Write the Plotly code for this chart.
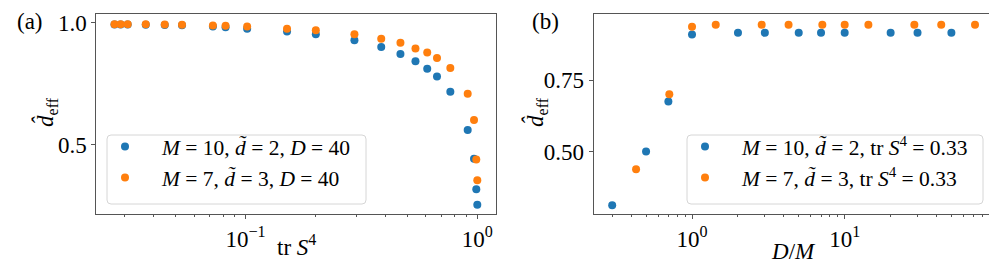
import plotly.graph_objects as go

# ---- data, panel (a) ----
trS4 = [0.0272, 0.0289, 0.031, 0.0371, 0.0448, 0.0532, 0.0723, 0.082, 0.1016, 0.151, 0.201,
        0.295, 0.385, 0.466, 0.541, 0.608, 0.670, 0.765, 0.909, 0.968, 0.99, 1.0]
deff_a_M10 = [0.992, 0.992, 0.992, 0.991, 0.990, 0.989, 0.984, 0.981, 0.975, 0.963, 0.952,
              0.927, 0.900, 0.871, 0.841, 0.811, 0.779, 0.716, 0.559, 0.442, 0.316, 0.253]
deff_a_M7 = [0.993, 0.993, 0.993, 0.993, 0.992, 0.991, 0.988, 0.987, 0.984, 0.975, 0.968,
             0.952, 0.934, 0.917, 0.894, 0.877, 0.855, 0.814, 0.708, 0.600, 0.438, 0.353]

# ---- data, panel (b) ----
DM_M10 = [0.3, 0.5, 0.7, 1.0, 2.0, 3.0, 5.0, 7.0, 10.0, 20.0, 30.0, 50.0]
deff_b_M10 = [0.312, 0.500, 0.676, 0.911, 0.917, 0.917, 0.917, 0.917, 0.917, 0.917, 0.917, 0.917]
DM_M7 = [0.43, 0.71, 1.0, 1.43, 2.86, 4.29, 7.14, 10.0, 14.3, 28.6, 42.9, 71.4]
deff_b_M7 = [0.438, 0.701, 0.938, 0.945, 0.945, 0.945, 0.945, 0.945, 0.945, 0.945, 0.945, 0.945]

leg_a = ["<i>M</i> = 10, <i>d̃</i> = 2, <i>D</i> = 40", "<i>M</i> = 7, <i>d̃</i> = 3, <i>D</i> = 40"]
leg_b = ["<i>M</i> = 10, <i>d̃</i> = 2, tr <i>S</i><sup>4</sup> = 0.33",
         "<i>M</i> = 7, <i>d̃</i> = 3, tr <i>S</i><sup>4</sup> = 0.33"]

BLUE = "#1f77b4"
ORANGE = "#ff7f0e"
FONT = "Liberation Serif"
W, H = 997, 268
T, B = 6, 62
PH = H - T - B

fig = go.Figure()
fig.add_trace(go.Scatter(x=trS4, y=deff_a_M10, mode="markers", name=leg_a[0],
                         marker=dict(color=BLUE, size=8), xaxis="x", yaxis="y", legend="legend"))
fig.add_trace(go.Scatter(x=trS4, y=deff_a_M7, mode="markers", name=leg_a[1],
                         marker=dict(color=ORANGE, size=8), xaxis="x", yaxis="y", legend="legend"))
fig.add_trace(go.Scatter(x=DM_M10, y=deff_b_M10, mode="markers", name=leg_b[0],
                         marker=dict(color=BLUE, size=8), xaxis="x2", yaxis="y2", legend="legend2"))
fig.add_trace(go.Scatter(x=DM_M7, y=deff_b_M7, mode="markers", name=leg_b[1],
                         marker=dict(color=ORANGE, size=8), xaxis="x2", yaxis="y2", legend="legend2"))

axcommon = dict(showline=True, linecolor="#555", linewidth=1, mirror=True, showgrid=False,
                zeroline=False, ticks="outside", ticklen=4, tickcolor="#555", automargin=False,
                tickfont=dict(family=FONT, size=23, color="black"))

minor_a = [0.03, 0.04, 0.05, 0.06, 0.07, 0.08, 0.09, 0.2, 0.3, 0.4, 0.5, 0.6, 0.7, 0.8, 0.9]
minor_b = [0.3, 0.4, 0.5, 0.6, 0.7, 0.8, 0.9, 2, 3, 4, 5, 6, 7, 8, 9, 20, 30, 40, 50, 60, 70, 80, 90]

def py(ypx):
    return (H - B - ypx) / PH

legcommon = dict(xanchor="left", yanchor="middle", xref="paper", yref="paper",
                 bgcolor="rgba(0,0,0,0)", borderwidth=0, itemwidth=64,
                 font=dict(family=FONT, size=21.5, color="black"))

fig.update_layout(
    width=W, height=H, margin=dict(l=0, r=0, t=T, b=B),
    paper_bgcolor="white", plot_bgcolor="white",
    xaxis=dict(type="log", domain=[88.3 / W, 487.7 / W], range=[-1.644, 0.0794],
               tickvals=[0.1, 1], ticktext=["10<sup>−1</sup>", "10<sup>0</sup>"],
               minor=dict(tickvals=minor_a, ticks="outside", ticklen=2, tickcolor="#555"),
               anchor="y", **axcommon),
    yaxis=dict(domain=[0, 1], range=[0.215, 1.035], tickvals=[0.5, 1.0], ticktext=["0.5", "1.0"],
               anchor="x", **axcommon),
    xaxis2=dict(type="log", domain=[585.7 / W, 984 / W], range=[-0.644, 1.965],
                tickvals=[1, 10], ticktext=["10<sup>0</sup>", "10<sup>1</sup>"],
                minor=dict(tickvals=minor_b, ticks="outside", ticklen=2, tickcolor="#555"),
                anchor="y2", **axcommon),
    yaxis2=dict(domain=[0, 1], range=[0.281, 0.983], tickvals=[0.5, 0.75], ticktext=["0.50", "0.75"],
                anchor="x2", **axcommon),
    legend=dict(x=80 / W, y=py(154), **legcommon),
    legend2=dict(x=660 / W, y=py(154), **legcommon),
    showlegend=True,
)

# legend frames (rounded, like matplotlib's fancybox)
def rounded(x0, y0, x1, y1, r=4):
    X0, X1 = x0 / W, x1 / W
    Y0, Y1 = py(y1), py(y0)
    rx, ry = r / W, r / PH
    return (f"M {X0+rx},{Y1} L {X1-rx},{Y1} Q {X1},{Y1} {X1},{Y1-ry} L {X1},{Y0+ry} "
            f"Q {X1},{Y0} {X1-rx},{Y0} L {X0+rx},{Y0} Q {X0},{Y0} {X0},{Y0+ry} "
            f"L {X0},{Y1-ry} Q {X0},{Y1} {X0+rx},{Y1} Z")

shapes = []
for (x0, x1) in [(99, 358), (679, 975)]:
    shapes.append(dict(type="path", path=rounded(x0, 127, x1, 196), xref="paper", yref="paper",
                       line=dict(color="#d6d6d6", width=1), fillcolor="rgba(255,255,255,0.8)",
                       layer="above"))

ann = []
def A(text, x, y, size=23, angle=0):
    ann.append(dict(text=text, x=x / W, y=py(y), xref="paper", yref="paper",
                    showarrow=False, font=dict(family=FONT, size=size, color="black"),
                    textangle=angle, xanchor="center", yanchor="middle"))

A("(a)", 22, 13)
A("(b)", 537, 13)
A("tr <i>S</i><sup>4</sup>", 288, 237)
A("<i>D</i>/<i>M</i>", 785, 243)
A("<i>d̂</i><sub>eff</sub>", 38, 104, angle=-90)
A("<i>d̂</i><sub>eff</sub>", 528, 104, angle=-90)
fig.update_layout(annotations=ann, shapes=shapes)

fig.write_html("out.html")
